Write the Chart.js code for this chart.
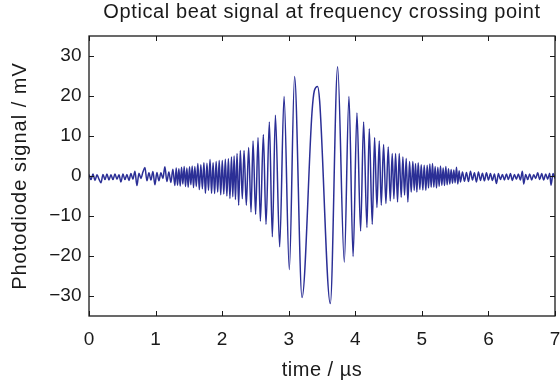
<!DOCTYPE html>
<html><head><meta charset="utf-8">
<script src="https://cdn.jsdelivr.net/npm/chart.js@4/dist/chart.umd.min.js"></script>
<style>html,body{margin:0;padding:0;background:#fff;}canvas{display:block;}</style>
</head><body>
<canvas id="c" width="560" height="383"></canvas>
<script>
// time axis (µs) and photodiode signal (mV)
const timeUs = [
 0.00,0.03,0.06,0.09,0.12,0.15,0.18,0.21,0.24,0.27,0.30,0.33,0.36,0.39,0.42,0.45,0.48,0.51,0.54,0.57,
 0.60,0.63,0.66,0.69,0.72,0.75,0.78,0.81,0.84,0.87,0.90,0.93,0.96,0.99,1.02,1.05,1.08,1.11,1.14,1.17,
 1.20,1.23,1.26,1.29,
 1.31,1.33,1.35,1.37,1.39,1.41,1.43,1.45,1.47,1.49,1.51,1.53,1.55,1.57,1.59,1.612,1.635,1.657,1.68,1.703,
 1.726,1.749,1.772,1.795,1.818,1.841,1.864,1.887,1.91,1.933,1.956,1.979,2.002,2.025,2.048,2.071,2.094,2.117,2.14,2.16,
 2.18,2.20,2.224,2.248,2.273,2.303,2.329,2.363,2.398,2.434,2.464,2.503,2.539,2.574,2.619,2.659,2.709,2.754,2.80,2.864,
 2.93,3.009,3.088,3.20,3.35,3.385,3.434,3.464,3.625,3.735,3.835,3.905,3.967,4.025,4.08,4.125,4.175,4.21,4.255,4.29,
 4.325,4.36,4.39,4.425,4.46,4.495,4.525,4.555,4.58,4.605,4.635,4.66,4.69,4.715,4.74,4.765,4.79,4.815,4.84,4.865,
 4.885,4.905,4.925,4.945,4.97,4.99,5.015,5.035,5.06,5.08,5.10,5.12,5.14,5.16,5.18,5.20,5.22,5.24,5.26,5.28,
 5.30,5.32,5.34,5.36,5.38,5.40,5.42,5.44,5.46,5.48,5.50,5.52,5.54,5.56,5.58,
 5.61,5.64,5.67,5.70,5.73,5.76,5.79,5.82,5.85,5.88,5.91,5.94,5.97,6.00,6.03,6.06,6.09,6.12,6.15,6.18,
 6.21,6.24,6.27,6.30,6.33,6.36,6.39,6.42,6.45,6.48,6.51,6.53,6.56,6.59,6.62,6.65,6.68,6.71,6.74,6.77,
 6.80,6.83,6.86,6.89,6.92,6.94,6.97,7.00
];
const signalMv = [
 0.4,-0.9,0.5,-1.1,0.3,-0.8,-1.7,0.4,-0.9,0.5,-1.0,0.3,-0.9,0.5,-0.8,0.3,-1.5,0.5,-0.9,0.4,
 -1.1,0.6,-0.8,1.2,-2.4,0.7,-0.6,1.0,2.1,-1.2,0.8,-1.0,1.1,-2.2,0.9,-1.2,0.8,-0.6,2.3,-1.4,
 1.0,-1.6,1.7,-2.4,
 2.0,-2.3,1.8,-2.5,2.2,-2.0,2.4,-2.6,2.0,-2.8,2.3,-2.2,2.5,-2.9,2.4,-2.6,3.1,-3.4,2.8,-3.2,
 3.3,-4.3,3.2,-3.6,4.1,-4.3,3.3,-4.4,3.6,-4.0,3.9,-4.7,3.9,-4.5,4.2,-5.0,4.3,-5.6,4.75,-5.2,
 5.0,-5.9,5.6,-7.3,6.4,-5.7,6.4,-7.3,7.1,-9.0,8.75,-9.6,9.6,-11.3,10.4,-12.1,13.5,-15.2,15.2,-17.7,
 19.9,-23.4,24.9,-30.4,16.0,21.3,22.4,18.9,-31.9,27.3,-21.5,19.9,-20.1,15.75,-13.75,13.5,-12.9,11.8,-12.1,9.6,
 -7.9,8.75,-7.3,7.9,-6.9,7.25,-6.25,5.6,-5.7,5.6,-6.5,5.6,-5.3,4.75,-4.75,4.4,-6.5,3.6,-4.0,3.6,
 -3.6,3.1,-4.0,3.3,-3.4,2.8,-3.5,2.7,-3.6,2.7,-3.0,3.0,-2.8,3.1,-2.8,2.4,-3.0,2.2,-2.6,2.5,
 -2.3,2.0,-2.4,2.4,-2.2,1.8,-2.0,1.6,-1.8,1.5,-1.7,2.2,-2.0,1.3,-1.5,
 1.0,-1.3,0.9,-1.4,1.2,-1.0,0.8,-1.5,1.0,-1.1,0.7,-1.2,0.8,-1.0,0.6,-1.1,0.5,-1.9,0.6,-0.9,
 0.4,-1.0,0.5,-0.9,0.6,-1.1,0.4,-0.8,0.5,-1.0,1.2,-2.0,0.4,-0.9,0.5,-1.0,0.3,-0.6,0.8,-0.9,
 0.6,-1.0,0.5,-0.8,0.7,-2.3,0.6,-0.6
];
const xTicks = [0,1,2,3,4,5,6,7];
const yTicks = [-30,-20,-10,0,10,20,30];
const titleText = 'Optical beat signal at frequency crossing point';
const xLabel = 'time / \u00b5s';
const yLabel = 'Photodiode signal / mV';

const FONT = "'Liberation Sans', Arial, Helvetica, sans-serif";
const INK = '#1a1a1a';
const points = timeUs.map((t, i) => ({x: t, y: signalMv[i]}));
const fmt = v => String(v).replace('-', '\u2212');

function withSpacing(ctx, sp, fn) {
  ctx.save();
  ctx.letterSpacing = sp;
  fn();
  ctx.restore();
}

const textSpacingPlugin = {
  id: 'textSpacing',
  beforeDraw(chart) {
    if (chart.$spaced) return;
    chart.$spaced = true;
    const ctx = chart.ctx;
    const tb = chart.titleBlock;
    if (tb) {
      const orig = tb.draw.bind(tb);
      tb.draw = (...a) => withSpacing(ctx, '0.6px', () => orig(...a));
    }
    const sx = chart.scales.x, sy = chart.scales.y;
    const ox = sx.drawTitle.bind(sx);
    sx.drawTitle = (...a) => withSpacing(ctx, '0.5px', () => ox(...a));
    const oy = sy.drawTitle.bind(sy);
    sy.drawTitle = (...a) => withSpacing(ctx, '1px', () => oy(...a));
  }
};

const framePlugin = {
  id: 'frame',
  afterDraw(chart) {
    const {ctx, chartArea: a, scales: {x, y}} = chart;
    ctx.save();
    ctx.strokeStyle = INK;
    ctx.lineWidth = 1;
    ctx.beginPath();
    for (const v of xTicks) {
      const px = Math.round(x.getPixelForValue(v)) + 0.5;
      ctx.moveTo(px, a.bottom); ctx.lineTo(px, a.bottom - 5);
      ctx.moveTo(px, a.top); ctx.lineTo(px, a.top + 5);
    }
    for (const v of yTicks) {
      const py = Math.round(y.getPixelForValue(v)) + 0.5;
      ctx.moveTo(a.left, py); ctx.lineTo(a.left + 5, py);
      ctx.moveTo(a.right, py); ctx.lineTo(a.right - 5, py);
    }
    ctx.stroke();
    ctx.lineWidth = 1.3;
    ctx.strokeRect(a.left, a.top, a.right - a.left, a.bottom - a.top);
    ctx.restore();
  }
};

new Chart(document.getElementById('c'), {
  type: 'line',
  data: {
    datasets: [{
      data: points,
      borderColor: '#2b2f96',
      borderWidth: 1.5,
      pointRadius: 0,
      fill: false,
      cubicInterpolationMode: 'monotone'
    }]
  },
  options: {
    responsive: false,
    animation: false,
    devicePixelRatio: 1,
    layout: {padding: {left: 0, right: 5, top: 0, bottom: 0}},
    plugins: {
      legend: {display: false},
      tooltip: {enabled: false},
      title: {
        display: true, text: titleText, color: INK, fullSize: false,
        font: {family: FONT, size: 20, weight: 'normal', lineHeight: 1.2},
        padding: {top: 0.8, bottom: 11.2}
      }
    },
    scales: {
      x: {
        type: 'linear', min: 0, max: 7,
        grid: {display: false, drawTicks: false, tickLength: 0}, border: {display: false},
        afterBuildTicks: s => { s.ticks = xTicks.map(v => ({value: v})); },
        afterFit: s => { s.height = 67; s.paddingLeft = 5; s.paddingRight = 5; },
        ticks: {color: INK, padding: 12.2, autoSkip: false, maxRotation: 0, callback: fmt,
          font: {family: FONT, size: 19, lineHeight: 1.2}},
        title: {display: true, text: xLabel, color: INK,
          font: {family: FONT, size: 20, lineHeight: 1.2}, padding: {top: 0, bottom: 0.5}}
      },
      y: {
        type: 'linear', min: -35, max: 35,
        grid: {display: false, drawTicks: false, tickLength: 0}, border: {display: false},
        afterBuildTicks: s => { s.ticks = yTicks.map(v => ({value: v})); },
        afterFit: s => { s.width = 89; },
        ticks: {color: INK, padding: 7.5, callback: fmt, font: {family: FONT, size: 19, lineHeight: 1.2}},
        title: {display: true, text: yLabel, color: INK,
          font: {family: FONT, size: 20, lineHeight: 1.2}, padding: {top: 8, bottom: 0}}
      }
    }
  },
  plugins: [textSpacingPlugin, framePlugin]
});
</script>
</body></html>
